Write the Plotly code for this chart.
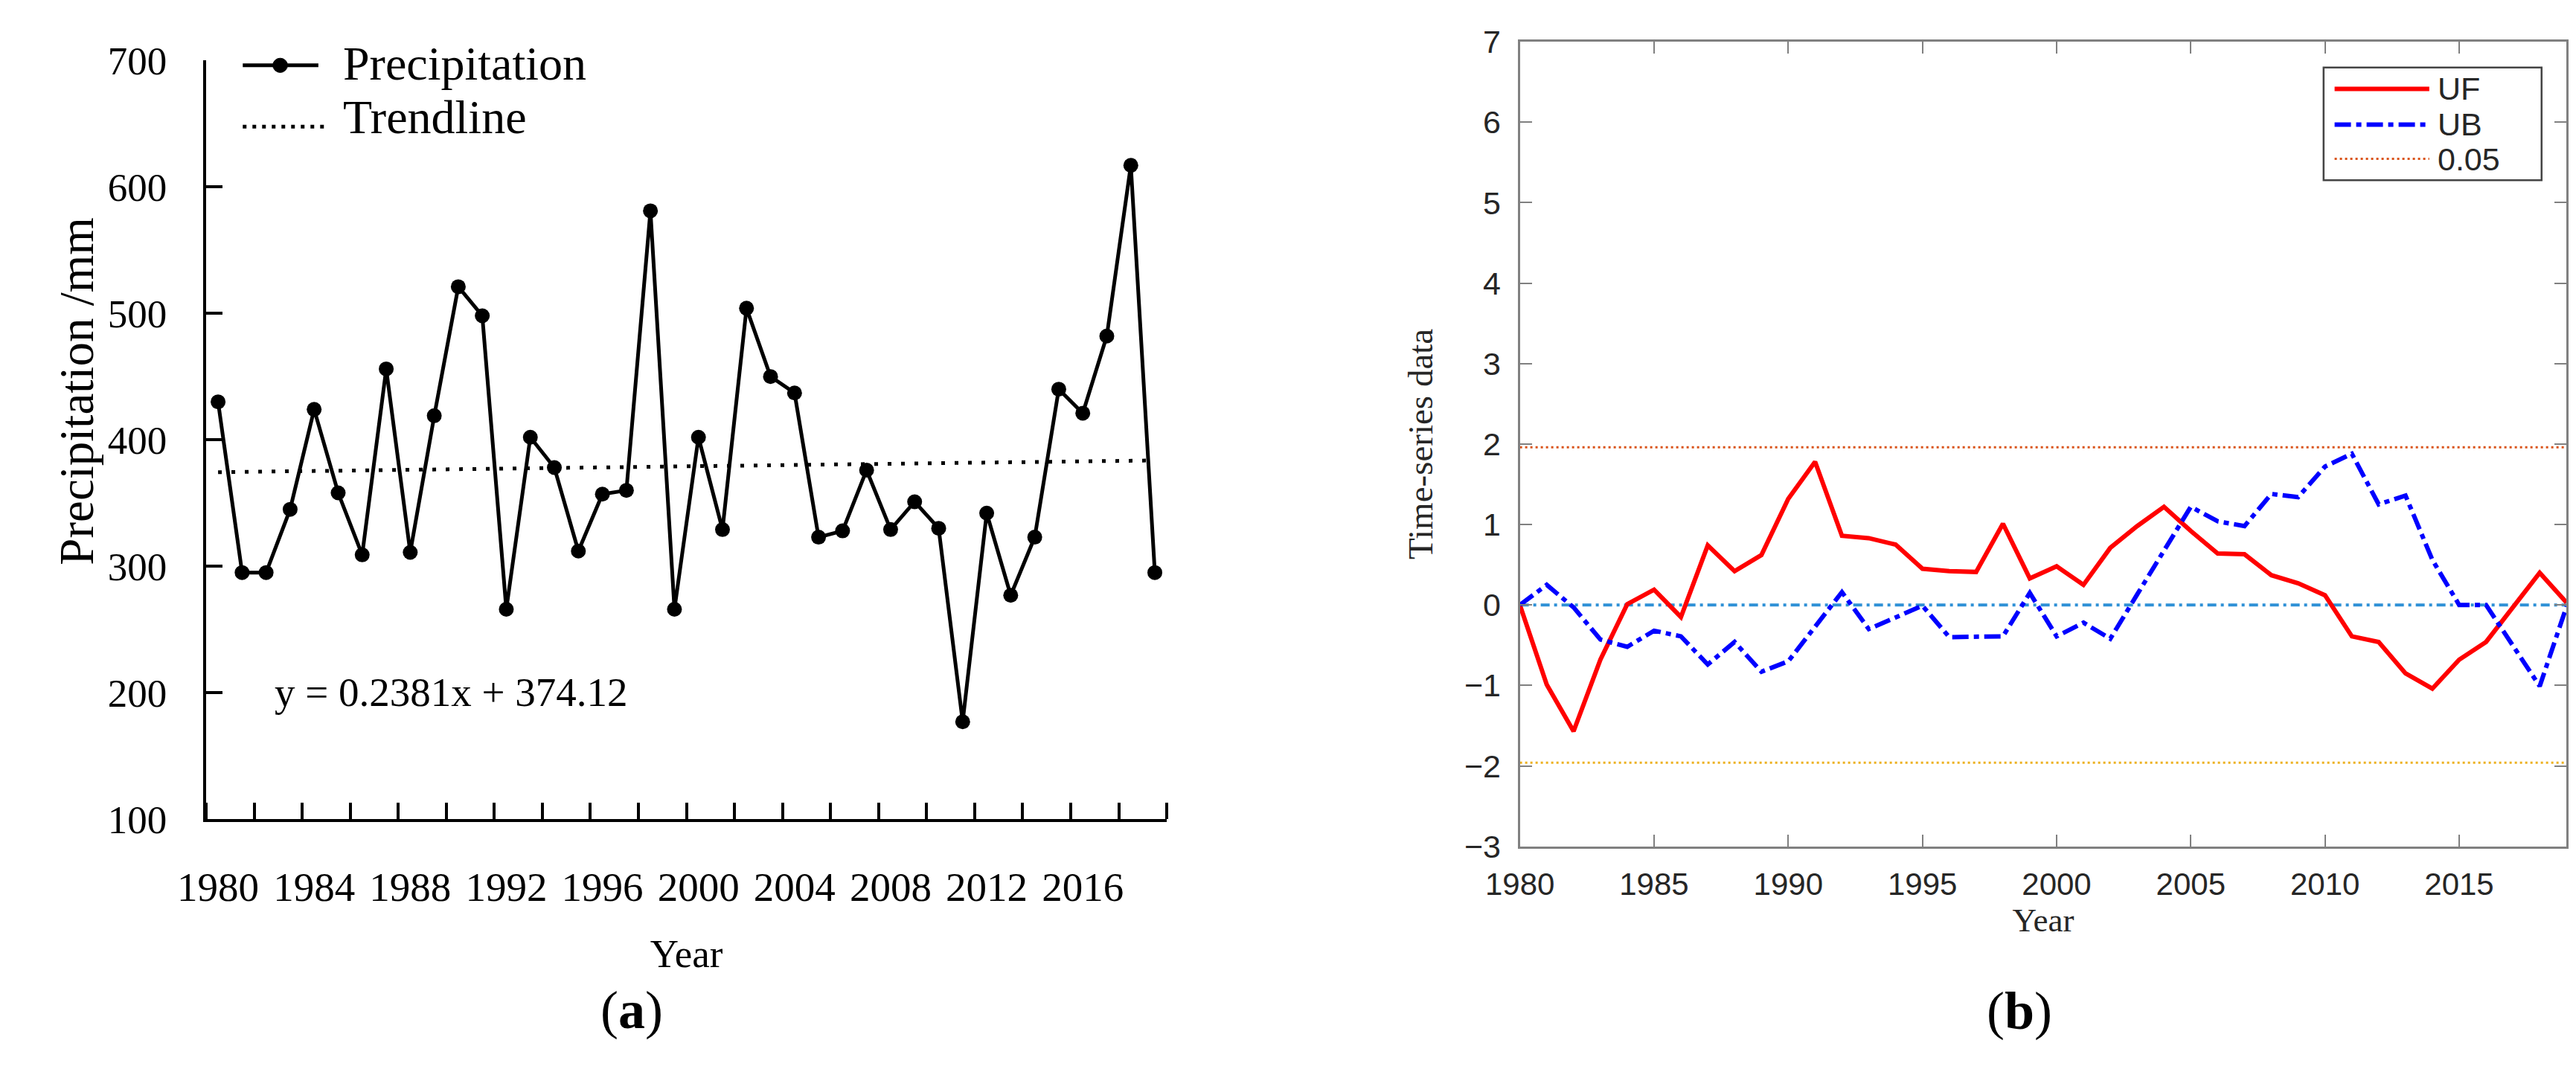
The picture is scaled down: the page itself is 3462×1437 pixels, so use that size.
import plotly.graph_objects as go

# ---------------- data ----------------
years = list(range(1980, 2020))
precipitation = [430, 295, 295, 345, 424, 358, 309, 456, 311, 419,
                 521, 498, 266, 402, 378, 312, 357, 360, 581, 266,
                 402, 329, 504, 450, 437, 323, 328, 376, 329, 351,
                 330, 177, 342, 277, 323, 440, 421, 482, 617, 295]
trend_slope = 0.2381
trend_intercept = 374.12
left_label_years = [1980, 1984, 1988, 1992, 1996, 2000, 2004, 2008, 2012, 2016]
left_y_ticks = [100, 200, 300, 400, 500, 600, 700]

uf = [0, -0.99, -1.57, -0.68, 0.01, 0.19, -0.15, 0.74, 0.42, 0.62,
      1.32, 1.78, 0.86, 0.83, 0.75, 0.45, 0.42, 0.41, 1.01, 0.33,
      0.48, 0.25, 0.71, 0.98, 1.22, 0.92, 0.64, 0.63, 0.37, 0.27,
      0.12, -0.39, -0.46, -0.85, -1.04, -0.68, -0.46, -0.04, 0.40, 0.03]
ub = [0, 0.25, -0.03, -0.43, -0.52, -0.32, -0.39, -0.74, -0.46, -0.83,
      -0.70, -0.28, 0.16, -0.30, -0.15, -0.01, -0.40, -0.40, -0.39, 0.15,
      -0.39, -0.22, -0.42, 0.13, 0.67, 1.22, 1.04, 0.98, 1.38, 1.34,
      1.72, 1.88, 1.25, 1.36, 0.56, 0.0, 0.0, -0.50, -1.01, -0.02]
critical = 1.96
right_x_ticks = [1980, 1985, 1990, 1995, 2000, 2005, 2010, 2015]
right_y_ticks = [-3, -2, -1, 0, 1, 2, 3, 4, 5, 6, 7]

trend = [trend_slope * (i + 1) + trend_intercept for i in range(len(years))]
left_minor_ticks = [y - 0.5 for y in years[::2]] + [years[-1] + 0.5]

# ---------------- layout geometry (pixels) ----------------
W, H = 3462, 1437
def px(x):
    return x / W
def py(y):
    return 1 - y / H

SERIF = "Liberation Serif, Times New Roman, serif"
SANS = "Liberation Sans, Arial, Helvetica, sans-serif"
GRAY_AX = "#808080"
GRAY_TXT = "#262626"

fig = go.Figure()

# left panel traces
fig.add_trace(go.Scatter(x=years, y=precipitation, mode="lines+markers",
                         line=dict(color="black", width=5),
                         marker=dict(color="black", size=20),
                         name="Precipitation", showlegend=False,
                         xaxis="x", yaxis="y"))
fig.add_trace(go.Scatter(x=years, y=trend, mode="lines",
                         line=dict(color="black", width=5, dash="5px,13px"),
                         name="Trendline", showlegend=False,
                         xaxis="x", yaxis="y"))

# right panel traces
fig.add_trace(go.Scatter(x=[years[0], years[-1]], y=[critical, critical], mode="lines",
                         line=dict(color="#D95319", width=3, dash="3px,4px"),
                         name="0.05", showlegend=False, xaxis="x2", yaxis="y2"))
fig.add_trace(go.Scatter(x=[years[0], years[-1]], y=[-critical, -critical], mode="lines",
                         line=dict(color="#EDB120", width=3, dash="3px,4px"),
                         name="-0.05", showlegend=False, xaxis="x2", yaxis="y2"))
fig.add_trace(go.Scatter(x=[years[0], years[-1]], y=[0, 0], mode="lines",
                         line=dict(color="#2E90D6", width=4, dash="12px,6px,4px,6px"),
                         name="zero", showlegend=False, xaxis="x2", yaxis="y2"))
fig.add_trace(go.Scatter(x=years, y=uf, mode="lines",
                         line=dict(color="#FF0000", width=6),
                         name="UF", showlegend=False, xaxis="x2", yaxis="y2"))
fig.add_trace(go.Scatter(x=years, y=ub, mode="lines",
                         line=dict(color="#0000FF", width=6, dash="22px,7px,7px,7px"),
                         name="UB", showlegend=False, xaxis="x2", yaxis="y2"))

# panel boxes (pixels)
L_X0, L_X1, L_YT, L_YB = 225, 1534, 47, 1110
R_X0, R_X1, R_YT, R_YB = 2015, 3441, 21, 1148

fig.update_layout(
    width=W, height=H, autosize=False,
    margin=dict(l=0, r=0, t=0, b=0),
    paper_bgcolor="white", plot_bgcolor="white",
    showlegend=False,
    xaxis=dict(domain=[px(L_X0), px(L_X1)], anchor="y",
               range=[years[0] - 0.5, years[-1] + 0.5],
               tickmode="array", tickvals=left_label_years,
               ticktext=[str(v) for v in left_label_years],
               ticks="", showline=True, linecolor="black", linewidth=4,
               showgrid=False, zeroline=False,
               tickfont=dict(family=SERIF, size=55, color="black"),
               ticklabelstandoff=40,
               minor=dict(tickmode="array", tickvals=left_minor_ticks, ticks="inside",
                          ticklen=22, tickwidth=4, tickcolor="black", showgrid=False),
               title=dict(text="Year", font=dict(family=SERIF, size=53, color="black"),
                          standoff=42)),
    yaxis=dict(domain=[py(L_YB), py(L_YT)], anchor="x",
               range=[left_y_ticks[0], left_y_ticks[-1]],
               tickmode="array", tickvals=left_y_ticks,
               ticks="inside", ticklen=22, tickwidth=4, tickcolor="black",
               showline=True, linecolor="black", linewidth=4,
               showgrid=False, zeroline=False,
               tickfont=dict(family=SERIF, size=53, color="black"),
               ticklabelstandoff=38),
    xaxis2=dict(domain=[px(R_X0), px(R_X1)], anchor="y2",
                range=[years[0], years[-1]],
                tickmode="array", tickvals=right_x_ticks,
                ticks="inside", ticklen=16, tickwidth=2, tickcolor=GRAY_AX,
                showline=True, mirror="ticks", linecolor=GRAY_AX, linewidth=3,
                showgrid=False, zeroline=False,
                tickfont=dict(family=SANS, size=42, color=GRAY_TXT),
                ticklabelstandoff=12,
                title=dict(text="Year", font=dict(family=SERIF, size=45, color=GRAY_TXT),
                           standoff=10)),
    yaxis2=dict(domain=[py(R_YB), py(R_YT)], anchor="x2",
                range=[right_y_ticks[0], right_y_ticks[-1]],
                tickmode="array", tickvals=right_y_ticks,
                ticks="inside", ticklen=16, tickwidth=2, tickcolor=GRAY_AX,
                showline=True, mirror="ticks", linecolor=GRAY_AX, linewidth=3,
                showgrid=False, zeroline=False,
                tickfont=dict(family=SANS, size=43, color=GRAY_TXT),
                ticklabelstandoff=14,
                title=dict(text="Time-series data", font=dict(family=SERIF, size=47, color=GRAY_TXT),
                           standoff=28)),
)

shapes = []
annotations = []

# left y title (off-centre, as in the reference)
annotations.append(dict(xref="paper", yref="paper", x=px(49), y=py(510),
                        text="Precipitation /mm", textangle=-90, showarrow=False,
                        xanchor="center", yanchor="middle",
                        font=dict(family=SERIF, size=65, color="black")))
# equation
annotations.append(dict(xref="paper", yref="paper", x=px(316), y=py(932),
                        text=f"y = {trend_slope}x + {trend_intercept}", showarrow=False,
                        xanchor="left", yanchor="middle",
                        font=dict(family=SERIF, size=55, color="black")))
# panel letters
annotations.append(dict(xref="paper", yref="paper", x=px(805), y=py(1378),
                        text="(<b>a</b>)", showarrow=False, xanchor="center", yanchor="middle",
                        font=dict(family=SERIF, size=72, color="black")))
annotations.append(dict(xref="paper", yref="paper", x=px(2696), y=py(1379),
                        text="(<b>b</b>)", showarrow=False, xanchor="center", yanchor="middle",
                        font=dict(family=SERIF, size=72, color="black")))

# left legend (drawn)
shapes.append(dict(type="line", xref="paper", yref="paper",
                   x0=px(275), x1=px(378), y0=py(54), y1=py(54),
                   line=dict(color="black", width=5)))
shapes.append(dict(type="circle", xref="paper", yref="paper",
                   x0=px(316), x1=px(336), y0=py(64), y1=py(44),
                   fillcolor="black", line=dict(color="black", width=1)))
shapes.append(dict(type="line", xref="paper", yref="paper",
                   x0=px(275), x1=px(393), y0=py(140), y1=py(140),
                   line=dict(color="black", width=5, dash="5px,8px")))
annotations.append(dict(xref="paper", yref="paper", x=px(410), y=py(52),
                        text="Precipitation", showarrow=False, xanchor="left", yanchor="middle",
                        font=dict(family=SERIF, size=64, color="black")))
annotations.append(dict(xref="paper", yref="paper", x=px(410), y=py(127),
                        text="Trendline", showarrow=False, xanchor="left", yanchor="middle",
                        font=dict(family=SERIF, size=64, color="black")))

# right legend (drawn)
shapes.append(dict(type="rect", xref="paper", yref="paper",
                   x0=px(3110), x1=px(3407), y0=py(215), y1=py(57),
                   fillcolor="white", line=dict(color="#444444", width=2.5)))
legend_items = [("UF", "#FF0000", 6, "solid", 87),
                ("UB", "#0000FF", 6, "22px,7px,7px,7px", 137),
                ("0.05", "#D95319", 3, "3px,4px", 185)]
for name, col, lw, dash, yy in legend_items:
    shapes.append(dict(type="line", xref="paper", yref="paper",
                       x0=px(3125), x1=px(3254), y0=py(yy), y1=py(yy),
                       line=dict(color=col, width=lw, dash=dash)))
    annotations.append(dict(xref="paper", yref="paper", x=px(3263), y=py(yy),
                            text=name, showarrow=False, xanchor="left", yanchor="middle",
                            font=dict(family=SANS, size=43, color=GRAY_TXT)))

fig.update_layout(shapes=shapes, annotations=annotations)
fig.write_html("out.html")
